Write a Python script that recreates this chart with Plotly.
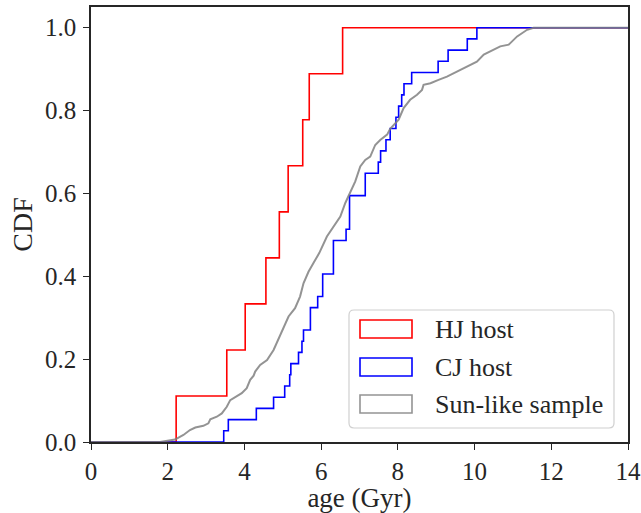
import plotly.graph_objects as go

# ---- data ----
hj_ages = [2.22, 3.54, 4.02, 4.56, 4.91, 5.14, 5.52, 5.69, 6.56]
cj_ages = [3.46, 3.58, 4.31, 4.76, 5.05, 5.18, 5.21, 5.41, 5.50, 5.54,
           5.72, 5.72, 5.91, 6.04, 6.04, 6.32, 6.32, 6.32, 6.65, 6.74,
           6.74, 6.74, 7.15, 7.15, 7.49, 7.55, 7.69, 7.80, 7.95, 8.02,
           8.10, 8.16, 8.36, 9.05, 9.31, 9.81, 10.06]
sun_age = [1.80, 2.19, 2.41, 2.58, 2.72, 2.93, 3.06, 3.11, 3.28, 3.41,
           3.54, 3.63, 3.80, 3.93, 4.06, 4.15, 4.24, 4.28, 4.41, 4.59,
           4.76, 4.89, 5.02, 5.15, 5.32, 5.45, 5.54, 5.67, 5.80, 5.95,
           6.15, 6.32, 6.50, 6.63, 6.76, 6.89, 7.02, 7.15, 7.28, 7.41,
           7.54, 7.72, 7.80, 8.02, 8.15, 8.32, 8.50, 8.63, 8.67, 8.85,
           9.06, 9.28, 9.54, 9.80, 10.06, 10.24, 10.50, 10.67, 10.89, 11.11,
           11.37, 11.54]
sun_cdf = [0.000, 0.006, 0.017, 0.029, 0.035, 0.039, 0.045, 0.055, 0.061, 0.069,
           0.085, 0.101, 0.111, 0.118, 0.130, 0.150, 0.160, 0.170, 0.186, 0.198,
           0.222, 0.250, 0.275, 0.303, 0.323, 0.351, 0.383, 0.411, 0.432, 0.456,
           0.496, 0.520, 0.544, 0.577, 0.605, 0.629, 0.665, 0.681, 0.689, 0.717,
           0.729, 0.742, 0.756, 0.778, 0.806, 0.826, 0.838, 0.850, 0.862, 0.866,
           0.874, 0.882, 0.894, 0.906, 0.918, 0.935, 0.947, 0.955, 0.959, 0.979,
           0.995, 1.000]
labels = ["HJ host", "CJ host", "Sun-like sample"]
colors = ["#ff0000", "#0000ff", "rgba(128,128,128,0.85)"]
x_range = [0, 14]
y_range = [0, 1.05]

FONT = "Liberation Serif, Times New Roman, serif"
TXT = "#262626"

def ecdf(ages):
    a = sorted(ages)
    n = len(a)
    xs = [x_range[0]] + a + [x_range[1]]
    ys = [0.0] + [(i + 1) / n for i in range(n)] + [1.0]
    return xs, ys

fig = go.Figure()
for ages, name, col in [(hj_ages, labels[0], colors[0]), (cj_ages, labels[1], colors[1])]:
    xs, ys = ecdf(ages)
    fig.add_trace(go.Scatter(x=xs, y=ys, mode="lines", line=dict(color=col, width=1.6, shape="hv"),
                             name=name, showlegend=False))
fig.add_trace(go.Scatter(x=[x_range[0]] + sun_age + [x_range[1]], y=[0.0] + sun_cdf + [1.0],
                         mode="lines", line=dict(color=colors[2], width=2, shape="linear"),
                         name=labels[2], showlegend=False))

# ---- layout geometry (pixels) ----
W, H = 641, 513
L, R, T, B = 91, 13, 7, 71
PW, PH = W - L - R, H - T - B

def px(xp):
    return (xp - L) / PW

def py(yp):
    return (H - B - yp) / PH

# manual legend (patch-style boxes like the reference)
bx0, bx1, by0, by1 = 349, 614, 310, 428
r = 5
rx, ry = r / PW, r / PH
X0, X1, Y0, Y1 = px(bx0), px(bx1), py(by1), py(by0)
path = (f"M{X0+rx},{Y0} L{X1-rx},{Y0} Q{X1},{Y0} {X1},{Y0+ry} "
        f"L{X1},{Y1-ry} Q{X1},{Y1} {X1-rx},{Y1} L{X0+rx},{Y1} "
        f"Q{X0},{Y1} {X0},{Y1-ry} L{X0},{Y0+ry} Q{X0},{Y0} {X0+rx},{Y0} Z")
shapes = [dict(type="path", path=path, xref="paper", yref="paper",
               line=dict(color="#d0d0d0", width=1.2), fillcolor="rgba(255,255,255,0.8)", layer="above")]
annotations = []
rows = [329, 367, 404]
for yc, name, col in zip(rows, labels, colors):
    shapes.append(dict(type="rect", xref="paper", yref="paper",
                       x0=px(360), x1=px(412), y0=py(yc + 9), y1=py(yc - 9),
                       line=dict(color=col, width=1.6), fillcolor="rgba(0,0,0,0)", layer="above"))
    annotations.append(dict(x=px(433), y=py(yc), xref="paper", yref="paper", text=name,
                            showarrow=False, xanchor="left", yanchor="middle",
                            font=dict(family=FONT, size=26, color=TXT)))

fig.update_layout(
    width=W, height=H, margin=dict(l=L, r=R, t=T, b=B, autoexpand=False),
    paper_bgcolor="white", plot_bgcolor="white",
    font=dict(family=FONT, color=TXT, size=25),
    shapes=shapes, annotations=annotations, showlegend=False,
    xaxis=dict(range=x_range, dtick=2, tick0=0, ticks="outside", ticklen=6, tickwidth=1.3,
               tickcolor=TXT, showline=True, linecolor=TXT, linewidth=1.5, mirror=True,
               showgrid=False, zeroline=False, automargin=False,
               tickfont=dict(family=FONT, size=25, color=TXT),
               title=dict(text="age (Gyr)", font=dict(family=FONT, size=27, color=TXT), standoff=8)),
    yaxis=dict(range=y_range, tickvals=[0, 0.2, 0.4, 0.6, 0.8, 1.0], tickformat=".1f",
               ticks="outside", ticklen=6, tickwidth=1.3, tickcolor=TXT,
               showline=True, linecolor=TXT, linewidth=1.5, mirror=True,
               showgrid=False, zeroline=False, automargin=False, ticklabelstandoff=2,
               tickfont=dict(family=FONT, size=25, color=TXT),
               title=dict(text="CDF", font=dict(family=FONT, size=28, color=TXT), standoff=4)),
)

fig.write_html("out.html")
